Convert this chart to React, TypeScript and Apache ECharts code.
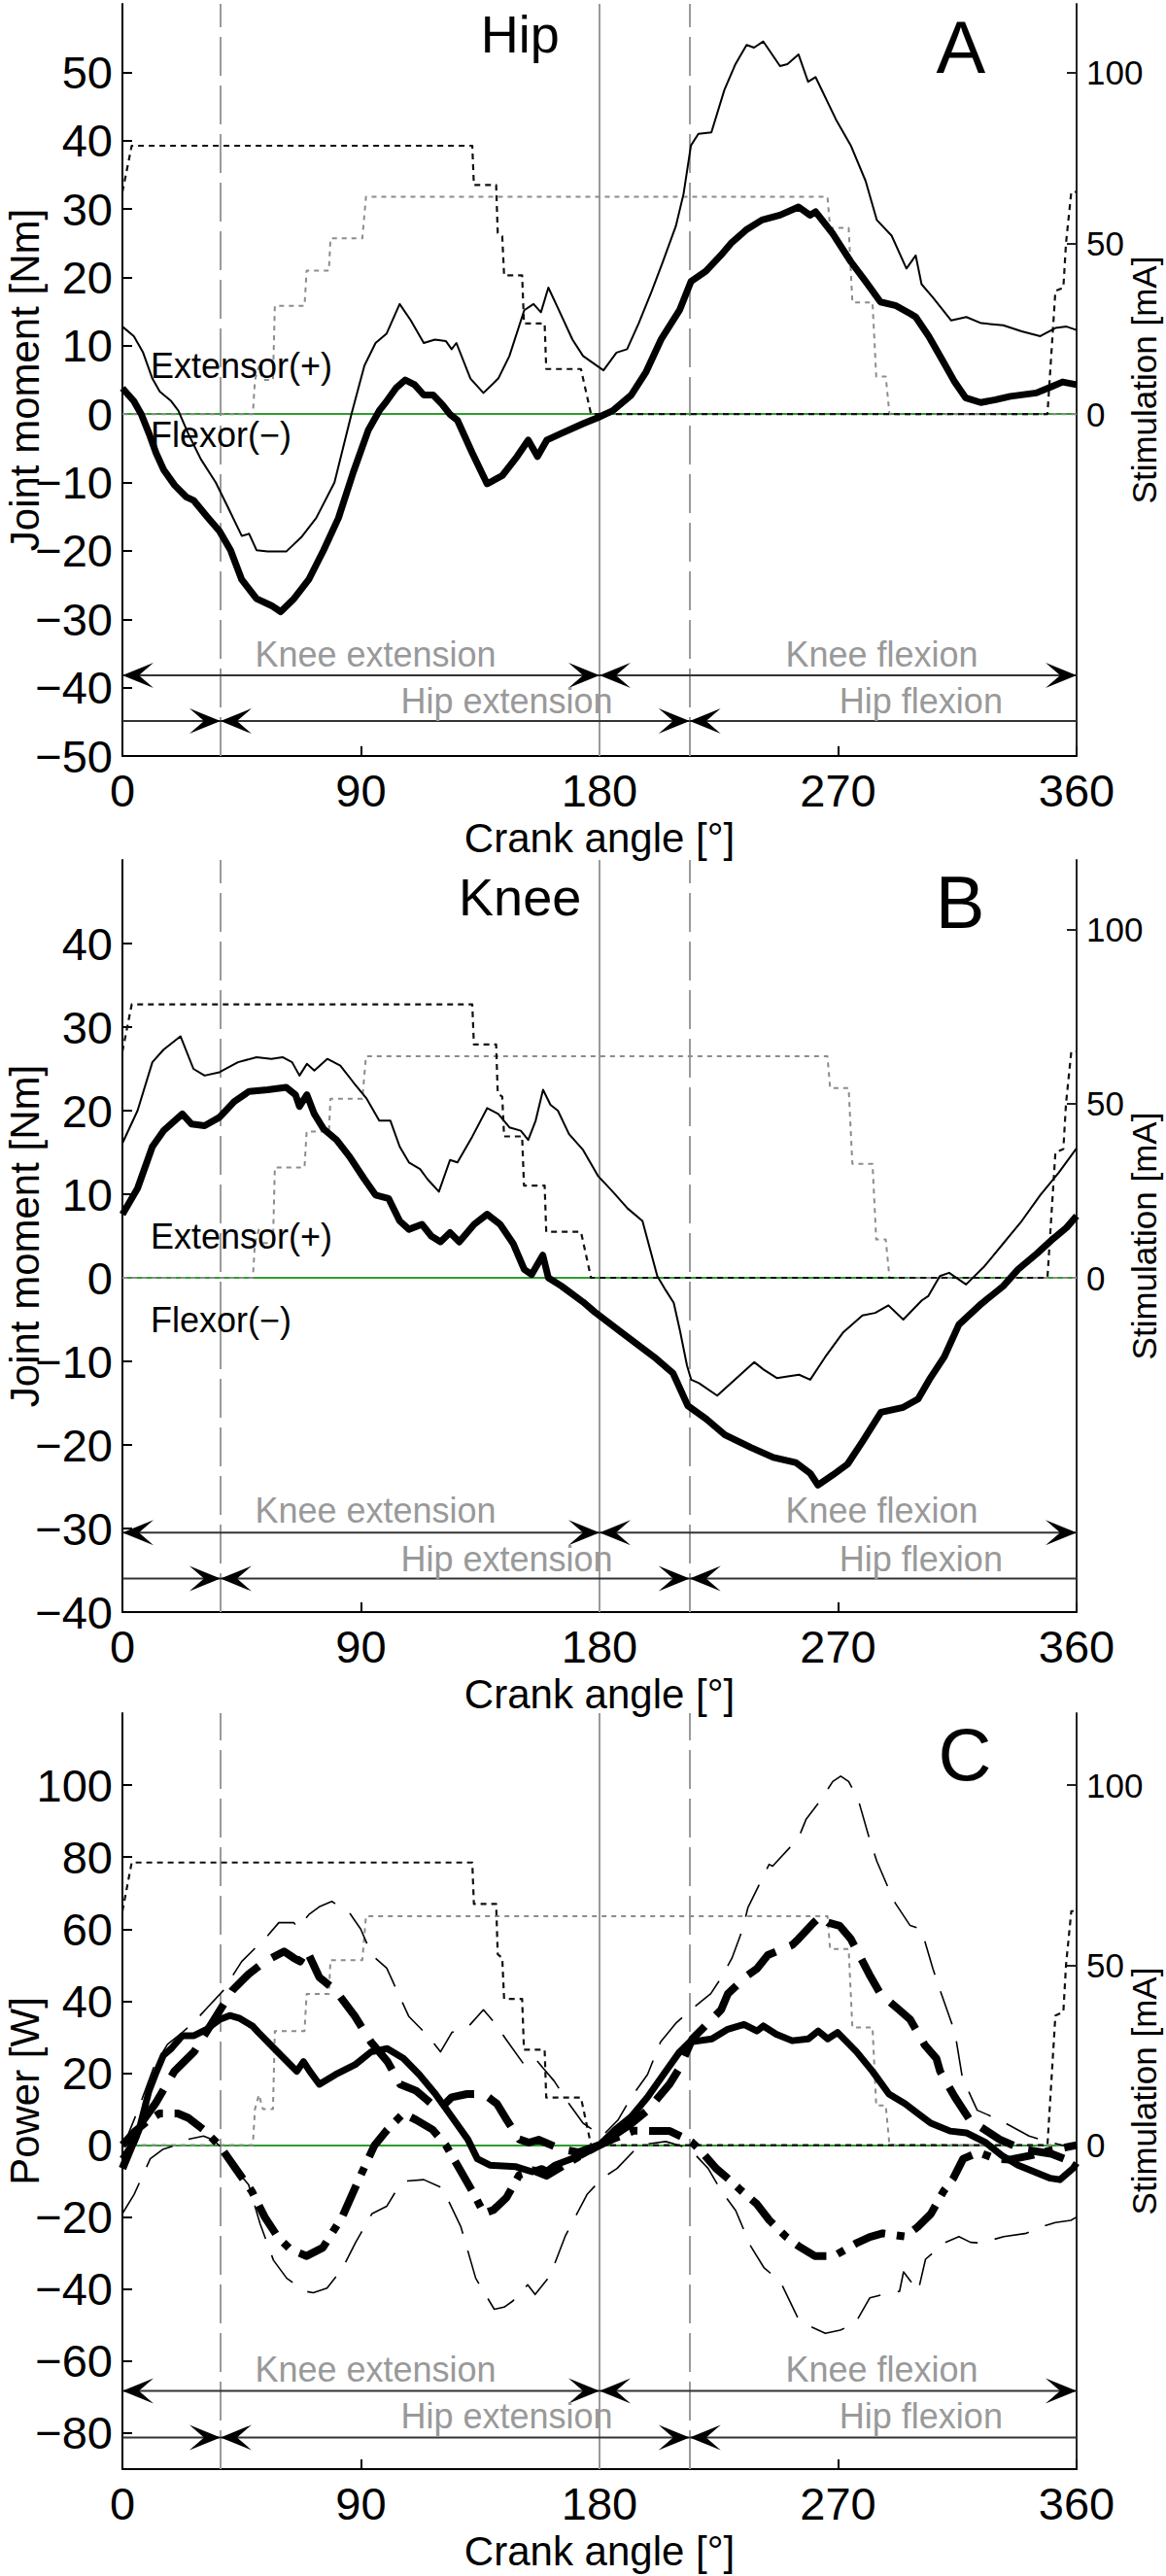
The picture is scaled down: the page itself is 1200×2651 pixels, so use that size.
import React, { useEffect, useRef } from 'react';
import * as echarts from 'echarts';

const FONT = "'Liberation Sans', Arial, Helvetica, sans-serif";

// ---------- axes ----------
const ANGLE_MIN = 0;
const ANGLE_MAX = 360;
const ANGLE_STEP = 90;
const HIP_MOMENT_TICKS = [-50, -40, -30, -20, -10, 0, 10, 20, 30, 40, 50];
const KNEE_MOMENT_TICKS = [-40, -30, -20, -10, 0, 10, 20, 30, 40];
const POWER_TICKS = [-80, -60, -40, -20, 0, 20, 40, 60, 80, 100];
const STIM_TICKS = [0, 50, 100];

// ---------- phase markers (crank angle, deg) ----------
const DASHED_PHASE_ANGLES = [37, 214];
const SOLID_PHASE_ANGLES = [180];
const PHASE_NAMES = ['Knee extension', 'Hip extension', 'Knee flexion', 'Hip flexion'];
const PHASE_NAME_ANGLES = [95.5, 145, 286.5, 301.3];
// [from, to, head at start, head at end]
const KNEE_SEGMENTS = [[0, 180, 1, 1], [180, 360, 1, 1]];
const HIP_SEGMENTS = [[0, 37, 0, 1], [37, 214, 1, 1], [214, 360, 1, 0]];

// ---------- stimulation [angle, mA] ----------
const HAM_STIM = [[0, 65], [3.5, 78.5], [132, 78.5], [132.6, 67], [141, 67], [141.6, 53], [143.3, 52], [144, 40.6], [150.8, 40.6], [151.5, 26.5], [159.3, 26.5], [159.9, 13.2], [173, 13.2], [176.8, 0], [349, 0], [352, 36], [355, 37], [356, 50], [358, 65], [360, 65]];
const QUAD_STIM = [[0, 0], [49.2, 0], [50, 10], [51.5, 14], [53, 10], [56.8, 10], [57.5, 31.7], [68.7, 31.7], [69.5, 42], [77.9, 42], [78.5, 51.4], [90.5, 51.4], [91.9, 63.6], [266, 63.6], [267, 54.5], [274, 54.5], [275.4, 32.7], [283, 32.7], [284.4, 11], [288, 11], [289.4, 0], [360, 0]];

// ---------- A: hip joint moment [angle, Nm] ----------
const HIP_THIN = [[0, 12.8], [4.3, 11.4], [7.8, 9.0], [11.3, 5.2], [14.1, 3.3], [18.4, 1.9], [21.1, 0.5], [25, -3], [29.6, -6.6], [35.2, -10], [39.4, -13.3], [45, -17.8], [47.8, -17.5], [50.6, -19.9], [54.8, -20.1], [61.8, -20.1], [67.5, -18], [73.1, -15.2], [80, -10], [86.4, 0], [91.3, 7.1], [95.5, 10.4], [99.7, 11.8], [104.6, 16.1], [108.8, 13.7], [113.7, 10.4], [117.9, 10.9], [122, 10.7], [124.2, 9.5], [126, 10.4], [131.3, 5.2], [136.2, 3.1], [141.8, 5.2], [146, 8.5], [151.6, 15.2], [155.1, 16.1], [157.9, 14.9], [160.7, 18.5], [164.2, 15.6], [169.8, 10.9], [173.8, 8.5], [181.5, 6.4], [186.4, 9.0], [190.4, 9.5], [194.8, 13.3], [199.7, 18], [203.9, 22.3], [208.8, 27.5], [211.7, 32.2], [214.5, 39.3], [217.3, 41], [222.2, 41.2], [227.1, 47.4], [231.3, 51.2], [235.5, 54], [238.3, 53.6], [241.8, 54.5], [248.1, 50.9], [250.9, 51.2], [255.1, 52.6], [258.7, 48.6], [261.5, 49.3], [269.2, 43.1], [274.8, 39.3], [280.4, 34.1], [284.6, 28.4], [290.2, 26.1], [295.8, 21.3], [299.3, 23.2], [301.5, 19], [305.7, 17.1], [312.7, 13.7], [318.4, 14.2], [324, 13.3], [332.3, 13.0], [339.3, 12.1], [346.3, 11.4], [352, 12.6], [356.2, 12.8], [360, 12.3]];
const HIP_THICK = [[0, 3.8], [4.3, 1.9], [7.1, 0], [10, -2.8], [12.7, -5.7], [15.5, -8.1], [19.7, -10.4], [24, -12.1], [26.8, -12.6], [32.4, -15.2], [36.6, -17.1], [40.8, -19.9], [45, -24.2], [50.6, -27], [56.2, -28], [59.7, -28.9], [64.7, -27], [70.3, -24.2], [75.9, -19.9], [81.5, -15.2], [87.1, -8.5], [92.7, -2.4], [96.9, 0.5], [99.7, 1.9], [103.2, 3.8], [106.7, 5.0], [110.2, 4.3], [113.7, 2.8], [117.2, 2.8], [120.7, 1.4], [123.5, 0], [126.4, -0.9], [132, -5.7], [137.6, -10.2], [143.3, -9.0], [148.9, -6.2], [153.1, -3.8], [156.6, -6.2], [160.1, -3.8], [165.7, -2.8], [173.8, -1.4], [179.4, -0.5], [185, 0.5], [192, 2.8], [197.6, 6.2], [203.2, 10.9], [210.2, 15.2], [214.5, 19.4], [220.1, 20.9], [225.7, 23.2], [229.9, 25.1], [235.5, 27], [241.3, 28.4], [248.1, 29.1], [255.1, 30.3], [259.4, 29.1], [261.5, 29.6], [267.8, 26.5], [274.8, 22.3], [280.4, 19.4], [286, 16.4], [291.6, 15.9], [297.2, 14.7], [299.3, 14.2], [304.2, 11.4], [309.8, 7.6], [314, 4.7], [318.1, 2.4], [323.8, 1.7], [329.4, 2.1], [335, 2.6], [344.8, 3.1], [350.5, 4.0], [354.7, 4.7], [360, 4.3]];

// ---------- B: knee joint moment [angle, Nm] ----------
const KNEE_THIN = [[0, 16.1], [5.7, 20], [11.3, 25.8], [15.5, 27.3], [21.9, 28.9], [26.8, 25.0], [31, 24.2], [36.6, 24.6], [43.6, 25.8], [50.6, 26.4], [56.2, 26.2], [60.4, 26.4], [64, 25.8], [66.8, 24.2], [69.6, 25.6], [72.4, 24.8], [77.3, 26.2], [82.2, 25.4], [87.1, 23.4], [92, 21.5], [96.9, 18.8], [101.1, 18.8], [104.6, 15.7], [108.1, 13.8], [112.3, 13.0], [115.1, 11.8], [119.4, 10.3], [123.6, 14.1], [126.4, 13.8], [132, 16.9], [137.6, 20.3], [141.8, 19.6], [146, 18], [150.3, 17.6], [153.1, 16.5], [155.9, 18.8], [158.7, 22.5], [161.5, 20.7], [164.3, 20], [168.5, 17.2], [173.8, 15.3], [179.4, 12.2], [185, 10.3], [190.6, 8.3], [196.2, 6.8], [201.8, 0.2], [205, -1.5], [208, -3], [210.4, -6.4], [213, -10.5], [214.6, -12.2], [217.5, -12.6], [224.4, -14.1], [231, -12.2], [238.4, -10.1], [242, -11], [246.9, -12], [251, -11.8], [255.3, -11.6], [259.5, -12.2], [265.1, -9.5], [272, -6.5], [279.2, -4.5], [284, -4.2], [289, -3.3], [294.6, -5], [301.6, -2.7], [304, -2.2], [308.4, 0.2], [311.9, 0.6], [318.3, -0.8], [325.3, 1.4], [332.3, 4.1], [339.3, 6.8], [346.3, 9.9], [353.3, 12.6], [360, 15.5]];
const KNEE_THICK = [[0, 7.6], [5.7, 10.7], [11.3, 15.7], [15.5, 17.6], [22.6, 19.6], [26.1, 18.4], [31, 18.2], [36.6, 19.2], [42.2, 21.1], [47.8, 22.3], [54.8, 22.5], [61.8, 22.8], [65.3, 21.9], [66.8, 20.5], [69.6, 21.9], [72.4, 19.6], [75.9, 17.8], [80.8, 16.5], [85.7, 14.5], [91.3, 11.8], [95.5, 9.9], [100.4, 9.5], [104.6, 6.8], [108.1, 5.8], [113, 6.4], [116.5, 5.0], [120, 4.3], [123.6, 5.4], [127.1, 4.3], [132.7, 6.4], [137.6, 7.6], [142.5, 6.4], [147.4, 4.1], [151.6, 1.0], [154.4, 0.4], [158.6, 2.7], [160.7, 0], [165.7, -1.0], [173.8, -2.9], [178.2, -4.1], [189.4, -6.8], [200.7, -9.5], [207.7, -11.4], [213.3, -15.3], [220.3, -16.9], [227.3, -18.8], [237.1, -20.3], [245.6, -21.5], [254, -22.1], [259.5, -23.4], [262.4, -24.8], [268, -23.6], [273.6, -22.3], [279.2, -19.6], [286.2, -16.1], [294.6, -15.5], [300.2, -14.5], [304.4, -12.2], [310, -9.5], [315.6, -5.6], [324.1, -3.1], [332.3, -1.0], [337.9, 1.0], [345, 2.9], [350.5, 4.5], [356.2, 6], [360, 7.4]];

// ---------- C: power [angle, W] ----------
const POWER_TOTAL = [[0, -3.8], [4.3, 0.7], [6.3, 4.3], [10, 15], [12.4, 19.6], [15.5, 25], [18.4, 26.8], [22.6, 30.4], [27, 30.4], [31.8, 32.2], [36.7, 34.9], [40.5, 36], [44, 35.3], [49.2, 33], [51.3, 31.3], [57.3, 26.8], [63.4, 22.3], [65.8, 20.5], [68.3, 23.2], [70.7, 20.5], [74.3, 16.9], [80.4, 19.6], [87.7, 22.3], [93.8, 25.9], [99.9, 26.8], [106, 24.1], [112, 19.6], [118.1, 14.2], [124.2, 7.9], [130.3, 1.6], [133.9, -3.8], [138.8, -5.6], [148.5, -6], [154.6, -7.4], [158.2, -6.5], [160.1, -7.2], [163.1, -5.6], [172.8, -2.9], [180, 0], [185.9, 4.3], [192, 7.9], [198.1, 13.3], [204.1, 19.6], [210.2, 25.9], [213.9, 28.6], [222.4, 29.5], [228.4, 32.2], [234.5, 33.5], [239.4, 31.7], [241.8, 33.1], [246.7, 30.8], [252.7, 29], [258.8, 29.5], [262.5, 31.7], [266.1, 29.5], [269.8, 31.3], [277, 25.9], [283, 20.5], [289.2, 14.2], [295.3, 11.5], [300.1, 8.8], [305, 6.1], [312.3, 3.9], [318.4, 3.4], [325.7, 0.7], [331.8, -2.9], [337.9, -5.6], [344, -7.4], [350.1, -9.2], [353.7, -9.6], [358.6, -6.5], [360, -5]];
const POWER_KNEE = [[0, -6.5], [7.1, 6.1], [12.4, 11.5], [19.6, 20.5], [27, 25.9], [35.4, 35.8], [41.5, 43], [47.6, 47.5], [53.7, 51], [61, 53.8], [64.6, 52], [67, 51], [69.5, 54.2], [74.3, 46.6], [80.4, 43], [87.7, 35.8], [93.8, 28.6], [100, 23.2], [104.8, 16.9], [110.8, 15.1], [115, 12.5], [119.3, 9.7], [124.2, 13.3], [130, 14.2], [136.4, 14.2], [141.3, 11.5], [145, 7], [149.7, 1.6], [153.4, 0.7], [157, 1.5], [165.5, -1.1], [172, -2], [180, 0], [186, 3], [192, 6], [198.1, 9.7], [206.4, 16.9], [210.2, 21.4], [215, 29.5], [225.9, 37.6], [228.4, 42], [235.5, 47], [239.4, 49], [243.5, 52.8], [252.7, 55.6], [255.1, 57.3], [260.8, 61.8], [263.5, 63.6], [266.3, 61.8], [270.6, 60.9], [274.8, 57.3], [281.8, 47.4], [286, 42], [293, 37.6], [297.2, 34.9], [302.8, 27.7], [307.1, 24.1], [308.5, 20.5], [314.1, 13.3], [319.7, 7], [325.3, 4.3], [330.9, 1.6], [339.3, -1.1], [350.5, -2.4], [356, -4], [360, -6]];
const POWER_HIP = [[0, 0], [5, 4], [10, 7], [14, 8.8], [20.9, 8.8], [25, 7.5], [30.6, 4.3], [36.7, -0.2], [42.7, -6.5], [48.8, -12.8], [53.7, -20], [58.5, -25.4], [63.4, -29], [69.5, -30.8], [75.6, -28.5], [82.9, -20], [88.9, -10], [95, -0.2], [99.9, 4.3], [106, 8.8], [110.8, 7], [117, 4.3], [122, 0], [127.8, -7.4], [132.7, -13.7], [136.4, -19], [140, -18], [144.9, -14.6], [149.7, -8.3], [155, -7], [160, -8.5], [168, -5], [175, -2], [180, 0], [186, 2], [193, 4], [199.3, 3.9], [206.5, 3.9], [212, 2], [215, 0.7], [218.7, -2], [224, -6.5], [229.6, -10], [234, -13], [239.4, -16.4], [244.1, -20.9], [250.3, -25.4], [255, -28], [261.2, -30.8], [268.5, -30.8], [277, -27.2], [282, -25.5], [286.8, -24.5], [295.3, -25.4], [300.1, -22.7], [305, -19.1], [309.8, -12.8], [313.5, -9.2], [317.2, -3.8], [323, -2], [329.4, -3.8], [335, -4], [342, -3], [350, -1.5], [360, 0]];
const POWER_UPPER = [[0, -1], [6, 10], [12, 22], [17, 28], [22.6, 31.3], [26.8, 34], [32.4, 38.5], [38, 42.9], [45, 51], [54.8, 58.2], [59, 61.8], [64.7, 61.8], [66, 60.3], [70.3, 64], [74.5, 66.3], [79, 67.7], [85.7, 64.5], [89.9, 60], [94.1, 52.8], [99.7, 49.2], [105.2, 40.3], [108, 35.8], [115.2, 30.4], [120, 25.9], [124.3, 31.3], [130.6, 33], [136.2, 37.6], [140.4, 34], [144.6, 29.5], [151.6, 22.3], [155.8, 24], [158.7, 21.4], [162.9, 17.8], [168, 12], [173.8, 6.1], [181, 2.5], [187, 7], [192, 13.3], [198.1, 19.6], [203, 28.6], [209, 34], [216, 38.5], [222, 42.1], [226, 46.6], [230, 52], [234, 60], [236, 66], [244, 78], [245.3, 77.5], [255, 85.2], [258, 90.6], [263.6, 96], [268, 101], [271, 102.5], [274, 101], [277.6, 96], [281.8, 85.2], [284.6, 78.9], [288.8, 71.7], [291.6, 67.2], [297.2, 61], [301.4, 60], [305.7, 49.2], [308.5, 43], [314.1, 31.3], [316.9, 18.7], [322.5, 9.7], [330.9, 7], [342.1, 2.5], [350.5, 0.7], [360, -1]];
const POWER_LOWER = [[0, -19], [4.4, -13.7], [10.5, -3.8], [15.4, -1.1], [19.6, -0.2], [24.5, 1.6], [30.6, 2.5], [34, 1.5], [38, -1], [43, -7], [47.6, -11], [52, -22], [57, -32], [62, -37], [68.9, -40.6], [72, -41], [77.2, -39.7], [82.9, -34.4], [88, -27], [94.1, -19.1], [99.7, -17], [103, -13], [106.7, -10], [113.7, -9.6], [120.7, -11.9], [127.7, -22.7], [133.3, -37], [140.3, -45.6], [144, -45], [147.3, -43.3], [152.9, -38.8], [155.7, -41.5], [161.4, -36.2], [167, -25.4], [175.3, -13.7], [181, -9.2], [186.6, -6.5], [195, 0], [205, 1], [214, -1], [221, -6.5], [226, -12.8], [231.4, -18.2], [237, -28], [242, -34], [248.3, -38], [255.3, -48.7], [260, -50.5], [265.2, -52.3], [270.8, -51.4], [276.4, -49.6], [282, -42.4], [287, -41.5], [293.2, -40.6], [294.7, -35.2], [300.2, -40.6], [303, -31.7], [310, -27.2], [315.6, -25.4], [320, -27], [324, -27.2], [332.5, -25.4], [341, -24.5], [346.5, -22.7], [352, -21.5], [357.8, -20.9], [360, -20]];

// ---------- layout / style (not data) ----------
const GRID_LEFT = 126;
const GRID_RIGHT = 92;
const PANELS = [
  { top: 4, height: 774, yMin: -50, yMax: 60, yTicks: HIP_MOMENT_TICKS, yName: 'Joint moment [Nm]', stimMin: -100, stimMax: 120,
    kneeArrowY: -38.2, hipArrowY: -44.9, kneeTextY: -35.2, hipTextY: -42,
    title: 'Hip', titlePos: [150, 55.6], letter: 'A', letterPos: [316.3, 53.7], ext: [10.6, 7.1], flex: [10.6, -3.0] },
  { top: 885, height: 774, yMin: -40, yMax: 50, yTicks: KNEE_MOMENT_TICKS, yName: 'Joint moment [Nm]', stimMin: -96, stimMax: 120,
    kneeArrowY: -30.5, hipArrowY: -36, kneeTextY: -27.9, hipTextY: -33.7,
    title: 'Knee', titlePos: [150, 45.6], letter: 'B', letterPos: [316, 44.9], ext: [10.6, 4.9], flex: [10.6, -5.1] },
  { top: 1763, height: 778, yMin: -90, yMax: 120, yTicks: POWER_TICKS, yName: 'Power [W]', stimMin: -90, stimMax: 120,
    kneeArrowY: -68.3, hipArrowY: -81.2, kneeTextY: -62.3, hipTextY: -75.3,
    title: '', titlePos: [150, 100], letter: 'C', letterPos: [317.8, 108.6], ext: null, flex: null },
];

const fmtNum = (v: number) => (v < 0 ? '\u2212' + Math.abs(v) : String(v));

const ARROW_LEN = 32;
const ARROW_HALF = 13;
const ARROW_NOTCH = 17;

function renderArrow(_params: any, api: any) {
  const y = api.value(2);
  const p1 = api.coord([api.value(0), y]);
  const p2 = api.coord([api.value(1), y]);
  const head = (tip: number[], dir: number) => ({
    type: 'polygon',
    shape: {
      points: [
        [tip[0], tip[1]],
        [tip[0] - dir * ARROW_LEN, tip[1] - ARROW_HALF],
        [tip[0] - dir * ARROW_NOTCH, tip[1]],
        [tip[0] - dir * ARROW_LEN, tip[1] + ARROW_HALF],
      ],
    },
    style: { fill: '#000' },
  });
  const children: any[] = [
    { type: 'line', shape: { x1: p1[0], y1: p1[1], x2: p2[0], y2: p2[1] }, style: { stroke: '#333', lineWidth: 2 } },
  ];
  if (api.value(4)) children.push(head(p2, 1));
  if (api.value(3)) children.push(head(p1, -1));
  return { type: 'group', children };
}

function curve(gi: number, data: number[][], width: number, dash: any, color = '#000', onStim = false, z = 3) {
  return {
    type: 'line',
    xAxisIndex: gi,
    yAxisIndex: gi * 2 + (onStim ? 1 : 0),
    data,
    symbol: 'none',
    silent: true,
    z,
    lineStyle: { color, width, type: dash, join: 'round', cap: 'butt' },
  };
}

function textSeries(gi: number, items: any[]) {
  return {
    type: 'scatter',
    xAxisIndex: gi,
    yAxisIndex: gi * 2,
    symbolSize: 0,
    silent: true,
    clip: false,
    z: 8,
    itemStyle: { color: 'transparent' },
    data: items.map((it) => ({
      value: it.pos,
      label: {
        show: true,
        position: 'inside',
        formatter: it.text,
        fontSize: it.size,
        lineHeight: it.size,
        color: it.color,
        opacity: 1,
        textBorderWidth: 0,
        fontFamily: FONT,
        align: it.align || 'center',
        verticalAlign: 'middle',
      },
    })),
  };
}

function buildOption() {
  const grid: any[] = [];
  const xAxis: any[] = [];
  const yAxis: any[] = [];
  const series: any[] = [];

  PANELS.forEach((p, gi) => {
    grid.push({ left: GRID_LEFT, right: GRID_RIGHT, top: p.top, height: p.height, containLabel: false, outerBoundsMode: 'none', show: false });
    xAxis.push({
      type: 'value', gridIndex: gi, min: ANGLE_MIN, max: ANGLE_MAX, interval: ANGLE_STEP,
      axisLine: { show: true, onZero: false, lineStyle: { color: '#000', width: 2 } },
      axisTick: { show: true, inside: true, length: 10, lineStyle: { color: '#000', width: 2 } },
      axisLabel: { show: true, margin: 12, fontSize: 47, color: '#000', fontFamily: FONT },
      splitLine: { show: false },
      name: 'Crank angle [°]', nameLocation: 'middle', nameGap: 63, nameMoveOverlap: false,
      nameTextStyle: { fontSize: 42, color: '#000', fontFamily: FONT },
    });
    yAxis.push({
      type: 'value', gridIndex: gi, position: 'left', min: p.yMin, max: p.yMax, interval: 10,
      axisLine: { show: true, onZero: false, lineStyle: { color: '#000', width: 2 } },
      axisTick: { show: true, inside: true, length: 10, customValues: p.yTicks, lineStyle: { color: '#000', width: 2 } },
      axisLabel: { show: true, margin: 10, fontSize: 47, color: '#000', fontFamily: FONT, customValues: p.yTicks, formatter: fmtNum },
      splitLine: { show: false },
      name: p.yName, nameLocation: 'middle', nameGap: 80, nameMoveOverlap: false,
      nameTextStyle: { fontSize: 42, color: '#000', fontFamily: FONT },
    });
    yAxis.push({
      type: 'value', gridIndex: gi, position: 'right', min: p.stimMin, max: p.stimMax,
      axisLine: { show: true, onZero: false, lineStyle: { color: '#222', width: 2 } },
      axisTick: { show: true, inside: true, length: 10, customValues: STIM_TICKS, lineStyle: { color: '#222', width: 2 } },
      axisLabel: { show: true, margin: 10, fontSize: 35, color: '#000', fontFamily: FONT, customValues: STIM_TICKS, formatter: fmtNum },
      splitLine: { show: false },
      name: 'Stimulation [mA]', nameLocation: 'middle', nameGap: 52, nameMoveOverlap: false,
      nameTextStyle: { fontSize: 35, color: '#000', fontFamily: FONT },
    });

    // reference lines
    series.push({
      type: 'line', xAxisIndex: gi, yAxisIndex: gi * 2, data: [], z: 1, silent: true,
      markLine: {
        silent: true, symbol: ['none', 'none'], label: { show: false }, z: 1, animation: false,
        data: [
          ...DASHED_PHASE_ANGLES.map((a) => ({ xAxis: a, lineStyle: { color: '#9a9a9a', width: 2, type: [40, 10] } })),
          ...SOLID_PHASE_ANGLES.map((a) => ({ xAxis: a, lineStyle: { color: '#9a9a9a', width: 2, type: 'solid' } })),
          { yAxis: 0, lineStyle: { color: '#2e9e2e', width: 2, type: 'solid' } },
        ],
      },
    });

    // stimulation
    series.push(curve(gi, QUAD_STIM, 2, [5, 5], '#8c8c8c', true, 2));
    series.push(curve(gi, HAM_STIM, 2.2, [6, 5], '#111', true, 2));

    // moment / power curves
    if (gi === 0) {
      series.push(curve(gi, HIP_THIN, 2, 'solid'));
      series.push(curve(gi, HIP_THICK, 7, 'solid'));
    } else if (gi === 1) {
      series.push(curve(gi, KNEE_THIN, 2, 'solid'));
      series.push(curve(gi, KNEE_THICK, 7, 'solid'));
    } else {
      series.push(curve(gi, POWER_UPPER, 1.6, [36, 18]));
      series.push(curve(gi, POWER_LOWER, 1.6, [36, 18]));
      series.push(curve(gi, POWER_KNEE, 8, [38, 16]));
      series.push(curve(gi, POWER_HIP, 8, [34, 12, 8, 12]));
      series.push(curve(gi, POWER_TOTAL, 7, 'solid'));
    }

    // phase arrows
    series.push({
      type: 'custom', xAxisIndex: gi, yAxisIndex: gi * 2, z: 6, silent: true, clip: false,
      encode: { x: [0, 1], y: 2 },
      data: [
        ...KNEE_SEGMENTS.map((s) => [s[0], s[1], p.kneeArrowY, s[2], s[3]]),
        ...HIP_SEGMENTS.map((s) => [s[0], s[1], p.hipArrowY, s[2], s[3]]),
      ],
      renderItem: renderArrow,
    });

    // texts
    const items: any[] = PHASE_NAMES.map((name, i) => ({
      pos: [PHASE_NAME_ANGLES[i], i % 2 === 0 ? p.kneeTextY : p.hipTextY],
      text: name, size: 36, color: '#999999',
    }));
    if (p.title) items.push({ pos: p.titlePos, text: p.title, size: 54, color: '#000' });
    items.push({ pos: p.letterPos, text: p.letter, size: 76, color: '#000' });
    if (p.ext) items.push({ pos: p.ext, text: 'Extensor(+)', size: 36, color: '#000', align: 'left' });
    if (p.flex) items.push({ pos: p.flex, text: 'Flexor(\u2212)', size: 36, color: '#000', align: 'left' });
    series.push(textSeries(gi, items));
  });

  return { animation: false, backgroundColor: '#fff', grid, xAxis, yAxis, series };
}

export default function App() {
  const ref = useRef<HTMLDivElement>(null);
  useEffect(() => {
    const chart = echarts.init(ref.current as HTMLDivElement, null, { renderer: 'svg' });
    chart.setOption(buildOption() as any);
    return () => chart.dispose();
  }, []);
  return (
    <div
      ref={ref}
      style={{ position: 'absolute', left: 0, top: 0, width: 1200, height: 2651, background: '#fff' }}
    />
  );
}
